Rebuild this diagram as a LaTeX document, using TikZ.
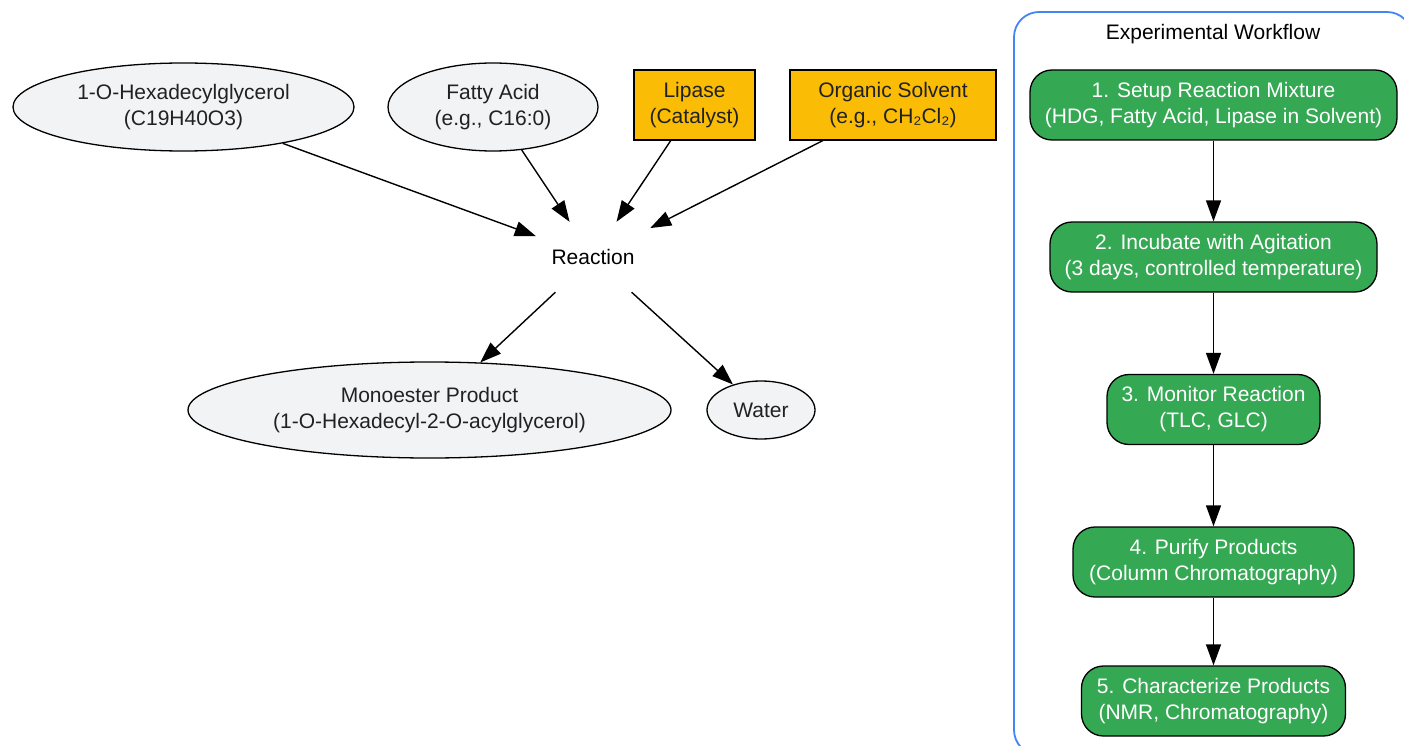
\documentclass[tikz,border=0pt]{standalone}
\usepackage{fontspec}
\setmainfont{Liberation Sans}
\usetikzlibrary{shapes.geometric,arrows.meta}
\definecolor{ellfill}{HTML}{F1F3F4}
\definecolor{txt}{HTML}{202124}
\definecolor{orangefill}{HTML}{FBBC05}
\definecolor{greenfill}{HTML}{34A853}
\definecolor{clusterblue}{HTML}{4285F4}
\tikzset{
  every node/.style={font=\fontsize{21}{26}\selectfont, align=center, inner sep=0pt},
  ell/.style={ellipse, draw=black, fill=ellfill, line width=1.3pt, text=txt},
  obox/.style={rectangle, draw=black, fill=orangefill, line width=1.3pt, text=txt, minimum height=70pt},
  gbox/.style={rectangle, rounded corners=22pt, draw=black, fill=greenfill, line width=1.3pt, text=white, minimum height=70pt},
  arr/.style={-{Triangle[length=21pt,width=15pt]}, line width=1.4pt, black},
}
\begin{document}
\begin{tikzpicture}[x=1pt,y=-1pt]
\useasboundingbox (0,0) rectangle (1404,746);
\clip (0,0) rectangle (1404,746);
% cluster
\draw[clusterblue, line width=1.8pt, rounded corners=25pt] (1014,12) rectangle (1412,755);
\node[text=black] (title) at (1213,34) {Experimental Workflow};
% reaction side
\node[ell, minimum width=341pt, minimum height=88pt] (hdg) at (183.5,107) {1-O-Hexadecylglycerol\\(C19H40O3)};
\node[ell, minimum width=210pt, minimum height=88pt] (fa) at (493,107) {Fatty Acid\\(e.g., C16:0)};
\node[obox, minimum width=121pt] (lip) at (694.5,105) {Lipase\\(Catalyst)};
\node[obox, minimum width=206pt] (solv) at (893,105) {Organic Solvent\\(e.g., CH₂Cl₂)};
\node[rectangle, minimum width=114pt, minimum height=70pt, text=black] (rx) at (593,257) {Reaction};
\node[ell, minimum width=483pt, minimum height=96pt] (mono) at (429.5,410) {Monoester Product\\(1-O-Hexadecyl-2-O-acylglycerol)};
\node[ell, minimum width=108pt, minimum height=58pt] (water) at (761,410) {Water};
\draw[arr] (hdg) -- (rx);
\draw[arr] (fa) -- (rx);
\draw[arr] (lip) -- (rx);
\draw[arr] (solv) -- (rx);
\draw[arr] (rx) -- (mono);
\draw[arr] (rx) -- (water);
% workflow
\node[gbox, minimum width=367pt] (w1) at (1213.5,105) {1. Setup Reaction Mixture\\(HDG, Fatty Acid, Lipase in Solvent)};
\node[gbox, minimum width=327pt] (w2) at (1213.5,257) {2. Incubate with Agitation\\(3 days, controlled temperature)};
\node[gbox, minimum width=213pt] (w3) at (1213.5,409.5) {3. Monitor Reaction\\(TLC, GLC)};
\node[gbox, minimum width=281pt] (w4) at (1213.5,562) {4. Purify Products\\(Column Chromatography)};
\node[gbox, minimum width=264pt] (w5) at (1213.5,701) {5. Characterize Products\\(NMR, Chromatography)};
\draw[arr] (w1) -- (w2);
\draw[arr] (w2) -- (w3);
\draw[arr] (w3) -- (w4);
\draw[arr] (w4) -- (w5);
\end{tikzpicture}
\end{document}
